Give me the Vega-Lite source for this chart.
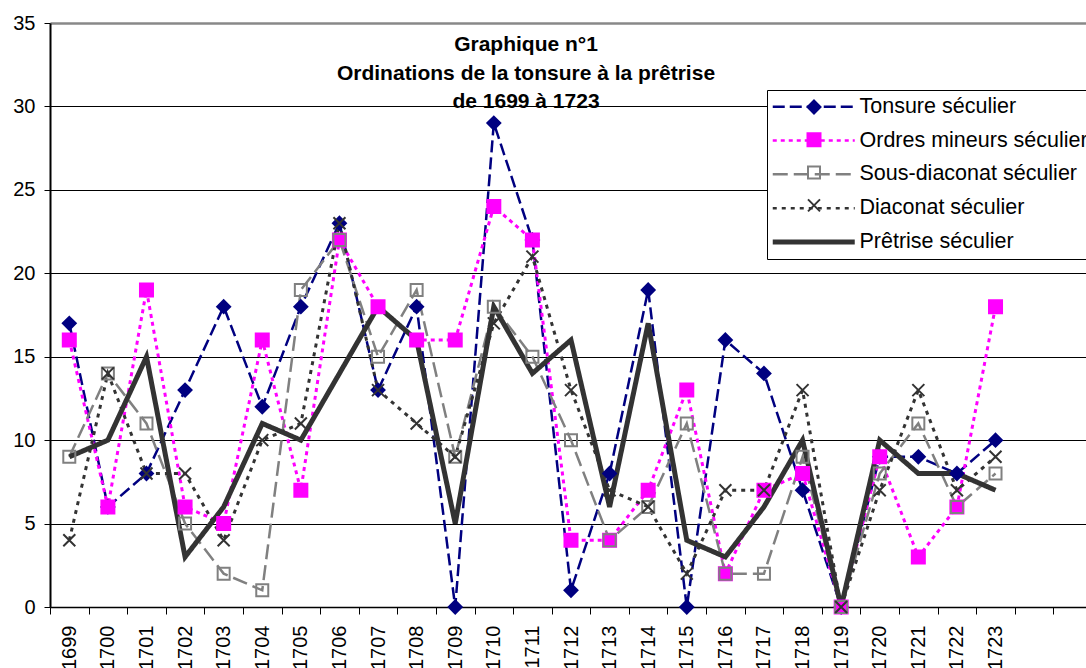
{
  "$schema": "https://vega.github.io/schema/vega-lite/v6.json",
  "width": 1036,
  "height": 584,
  "autosize": {"type": "none"},
  "padding": {"left": 50, "top": 23, "right": 0, "bottom": 61},
  "background": "white",
  "config": {"view": {"stroke": null}, "font": "Liberation Sans"},
  "title": {
    "text": ["Graphique n°1", "Ordinations de la tonsure à la prêtrise", "de 1699 à 1723"],
    "fontSize": 21,
    "fontWeight": "bold",
    "font": "Liberation Sans",
    "color": "black",
    "anchor": "middle",
    "baseline": "top",
    "offset": -11,
    "lineHeight": 28.5,
    "dx": -42,
    "dy": 88
  },
  "data": {
    "values": [
      {"year": "1699", "Tonsure séculier": 17, "Ordres mineurs séculier": 16, "Sous-diaconat séculier": 9, "Diaconat séculier": 4, "Prêtrise séculier": 9},
      {"year": "1700", "Tonsure séculier": 6, "Ordres mineurs séculier": 6, "Sous-diaconat séculier": 14, "Diaconat séculier": 14, "Prêtrise séculier": 10},
      {"year": "1701", "Tonsure séculier": 8, "Ordres mineurs séculier": 19, "Sous-diaconat séculier": 11, "Diaconat séculier": 8, "Prêtrise séculier": 15},
      {"year": "1702", "Tonsure séculier": 13, "Ordres mineurs séculier": 6, "Sous-diaconat séculier": 5, "Diaconat séculier": 8, "Prêtrise séculier": 3},
      {"year": "1703", "Tonsure séculier": 18, "Ordres mineurs séculier": 5, "Sous-diaconat séculier": 2, "Diaconat séculier": 4, "Prêtrise séculier": 6},
      {"year": "1704", "Tonsure séculier": 12, "Ordres mineurs séculier": 16, "Sous-diaconat séculier": 1, "Diaconat séculier": 10, "Prêtrise séculier": 11},
      {"year": "1705", "Tonsure séculier": 18, "Ordres mineurs séculier": 7, "Sous-diaconat séculier": 19, "Diaconat séculier": 11, "Prêtrise séculier": 10},
      {"year": "1706", "Tonsure séculier": 23, "Ordres mineurs séculier": 22, "Sous-diaconat séculier": 22, "Diaconat séculier": 23, "Prêtrise séculier": 14},
      {"year": "1707", "Tonsure séculier": 13, "Ordres mineurs séculier": 18, "Sous-diaconat séculier": 15, "Diaconat séculier": 13, "Prêtrise séculier": 18},
      {"year": "1708", "Tonsure séculier": 18, "Ordres mineurs séculier": 16, "Sous-diaconat séculier": 19, "Diaconat séculier": 11, "Prêtrise séculier": 16},
      {"year": "1709", "Tonsure séculier": 0, "Ordres mineurs séculier": 16, "Sous-diaconat séculier": 9, "Diaconat séculier": 9, "Prêtrise séculier": 5},
      {"year": "1710", "Tonsure séculier": 29, "Ordres mineurs séculier": 24, "Sous-diaconat séculier": 18, "Diaconat séculier": 17, "Prêtrise séculier": 18},
      {"year": "1711", "Tonsure séculier": 22, "Ordres mineurs séculier": 22, "Sous-diaconat séculier": 15, "Diaconat séculier": 21, "Prêtrise séculier": 14},
      {"year": "1712", "Tonsure séculier": 1, "Ordres mineurs séculier": 4, "Sous-diaconat séculier": 10, "Diaconat séculier": 13, "Prêtrise séculier": 16},
      {"year": "1713", "Tonsure séculier": 8, "Ordres mineurs séculier": 4, "Sous-diaconat séculier": 4, "Diaconat séculier": 7, "Prêtrise séculier": 6},
      {"year": "1714", "Tonsure séculier": 19, "Ordres mineurs séculier": 7, "Sous-diaconat séculier": 6, "Diaconat séculier": 6, "Prêtrise séculier": 17},
      {"year": "1715", "Tonsure séculier": 0, "Ordres mineurs séculier": 13, "Sous-diaconat séculier": 11, "Diaconat séculier": 2, "Prêtrise séculier": 4},
      {"year": "1716", "Tonsure séculier": 16, "Ordres mineurs séculier": 2, "Sous-diaconat séculier": 2, "Diaconat séculier": 7, "Prêtrise séculier": 3},
      {"year": "1717", "Tonsure séculier": 14, "Ordres mineurs séculier": 7, "Sous-diaconat séculier": 2, "Diaconat séculier": 7, "Prêtrise séculier": 6},
      {"year": "1718", "Tonsure séculier": 7, "Ordres mineurs séculier": 8, "Sous-diaconat séculier": 9, "Diaconat séculier": 13, "Prêtrise séculier": 10},
      {"year": "1719", "Tonsure séculier": 0, "Ordres mineurs séculier": 0, "Sous-diaconat séculier": 0, "Diaconat séculier": 0, "Prêtrise séculier": 0},
      {"year": "1720", "Tonsure séculier": 9, "Ordres mineurs séculier": 9, "Sous-diaconat séculier": 8, "Diaconat séculier": 7, "Prêtrise séculier": 10},
      {"year": "1721", "Tonsure séculier": 9, "Ordres mineurs séculier": 3, "Sous-diaconat séculier": 11, "Diaconat séculier": 13, "Prêtrise séculier": 8},
      {"year": "1722", "Tonsure séculier": 8, "Ordres mineurs séculier": 6, "Sous-diaconat séculier": 6, "Diaconat séculier": 7, "Prêtrise séculier": 8},
      {"year": "1723", "Tonsure séculier": 10, "Ordres mineurs séculier": 18, "Sous-diaconat séculier": 8, "Diaconat séculier": 9, "Prêtrise séculier": 7}
    ]
  },
  "transform": [
    {"fold": ["Tonsure séculier", "Ordres mineurs séculier", "Sous-diaconat séculier", "Diaconat séculier", "Prêtrise séculier"], "as": ["series", "value"]}
  ],
  "encoding": {
    "x": {
      "field": "year",
      "type": "ordinal",
      "scale": {
        "type": "band",
        "domain": ["1699","1700","1701","1702","1703","1704","1705","1706","1707","1708","1709","1710","1711","1712","1713","1714","1715","1716","1717","1718","1719","1720","1721","1722","1723","1724","1725"],
        "range": [0, 1042],
        "paddingInner": 0,
        "paddingOuter": 0
      },
      "axis": {
        "title": null,
        "labelAngle": -90,
        "labelFontSize": 20,
        "labelFont": "Liberation Sans",
        "labelColor": "black",
        "labelPadding": 11,
        "tickSize": 7,
        "tickColor": "black",
        "tickWidth": 1,
        "domainColor": "black",
        "domainWidth": 1.5,
        "tickBand": "extent",
        "grid": false,
        "labelExpr": "toNumber(datum.value) > 1723 ? '' : datum.value"
      }
    },
    "y": {
      "field": "value",
      "type": "quantitative",
      "scale": {"domain": [0, 35], "nice": false},
      "axis": {
        "title": null,
        "values": [0, 5, 10, 15, 20, 25, 30, 35],
        "labelFontSize": 20,
        "labelFont": "Liberation Sans",
        "labelColor": "black",
        "labelPadding": 9,
        "tickSize": 6,
        "tickColor": "black",
        "domainColor": "black",
        "domainWidth": 2,
        "grid": true,
        "gridOpacity": 1,
        "gridColor": {"condition": {"test": "datum.value === 35", "value": "#888888"}, "value": "black"},
        "gridWidth": {"condition": {"test": "datum.value === 35", "value": 2.5}, "value": 1}
      }
    }
  },
  "layer": [
    {
      "mark": {"type": "line"},
      "encoding": {
        "color": {
          "field": "series",
          "type": "nominal",
          "scale": {
            "domain": ["Tonsure séculier", "Ordres mineurs séculier", "Sous-diaconat séculier", "Diaconat séculier", "Prêtrise séculier"],
            "range": ["#000080", "#FF00FF", "#808080", "#333333", "#333333"]
          },
          "legend": {
            "orient": "none",
            "legendX": 717,
            "legendY": 67,
            "title": null,
            "symbolType": "M-4.1,0L4.1,0",
            "symbolSize": 400,
            "symbolStrokeWidth": 2,
            "symbolOffset": 30,
            "labelFontSize": 21.5,
            "labelFont": "Liberation Sans",
            "labelColor": "black",
            "labelOffset": 35,
            "labelLimit": 500,
            "rowPadding": 10.8,
            "padding": 6,
            "fillColor": "white",
            "strokeColor": "black",
            "zindex": 0,
            "encode": {
              "symbols": {"update": {"strokeWidth": {"signal": "datum.value === 'Prêtrise séculier' ? 5 : 2.5"}}}
            }
          }
        },
        "strokeDash": {
          "field": "series",
          "type": "nominal",
          "scale": {
            "domain": ["Tonsure séculier", "Ordres mineurs séculier", "Sous-diaconat séculier", "Diaconat séculier", "Prêtrise séculier"],
            "range": [[12, 5], [4, 4], [15, 6], [4, 5], [1, 0]]
          }
        },
        "strokeWidth": {
          "condition": [
            {"test": "datum.series === 'Prêtrise séculier'", "value": 5},
            {"test": "datum.series === 'Ordres mineurs séculier' || datum.series === 'Diaconat séculier'", "value": 3}
          ],
          "value": 2.5
        }
      }
    },
    {
      "transform": [{"filter": "datum.series !== 'Prêtrise séculier'"}],
      "mark": {"type": "point", "size": 400, "strokeWidth": 2, "opacity": 1},
      "encoding": {
        "shape": {
          "field": "series",
          "type": "nominal",
          "scale": {
            "domain": ["Tonsure séculier", "Ordres mineurs séculier", "Sous-diaconat séculier", "Diaconat séculier"],
            "range": [
              "M-4.1,0M4.1,0M0,-0.65L0.65,0L0,0.65L-0.65,0Z",
              "M-4.1,0M4.1,0M-0.65,-0.65L0.65,-0.65L0.65,0.65L-0.65,0.65Z",
              "M-4.1,0M4.1,0M-0.6,-0.6L0.6,-0.6L0.6,0.6L-0.6,0.6Z",
              "M-4.1,0M4.1,0M-0.6,-0.6L0.6,0.6M0.6,-0.6L-0.6,0.6"
            ]
          },
          "legend": {
            "orient": "none",
            "legendX": 717,
            "legendY": 67,
            "title": null,
            "symbolSize": 400,
            "symbolStrokeWidth": 2,
            "symbolOffset": 30,
            "labelFontSize": 21.5,
            "labelFont": "Liberation Sans",
            "labelColor": "transparent",
            "labelExpr": "''",
            "labelOffset": 35,
            "labelLimit": 500,
            "rowPadding": 10.8,
            "padding": 6,
            "zindex": 1
          }
        },
        "fill": {
          "field": "series",
          "type": "nominal",
          "scale": {
            "domain": ["Tonsure séculier", "Ordres mineurs séculier", "Sous-diaconat séculier", "Diaconat séculier"],
            "range": ["#000080", "#FF00FF", "transparent", "transparent"]
          }
        },
        "stroke": {
          "field": "series",
          "type": "nominal",
          "scale": {
            "domain": ["Tonsure séculier", "Ordres mineurs séculier", "Sous-diaconat séculier", "Diaconat séculier"],
            "range": ["#000080", "#FF00FF", "#808080", "#333333"]
          }
        }
      }
    }
  ]
}
